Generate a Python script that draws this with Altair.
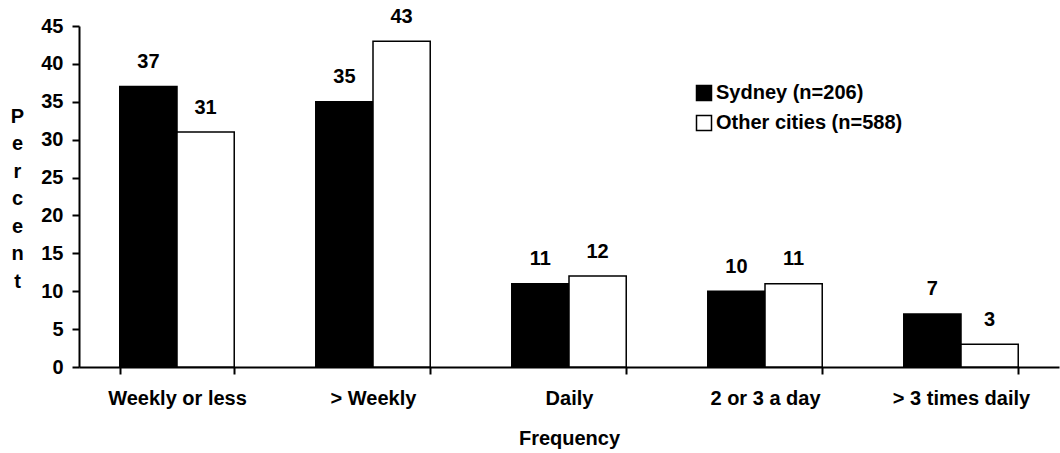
import altair as alt
import pandas as pd

categories = ["Weekly or less", "> Weekly", "Daily", "2 or 3 a day", "> 3 times daily"]
series_names = ["Sydney (n=206)", "Other cities (n=588)"]
sydney = [37, 35, 11, 10, 7]
other = [31, 43, 12, 11, 3]

rows = []
for c, s, o in zip(categories, sydney, other):
    rows.append({"category": c, "series": series_names[0], "value": s})
    rows.append({"category": c, "series": series_names[1], "value": o})
df = pd.DataFrame(rows)

FONT = "Liberation Sans"
FS = 20

x_enc = alt.X(
    "category:N",
    sort=categories,
    scale=alt.Scale(paddingInner=0.416, paddingOuter=0.208),
    axis=alt.Axis(
        title="Frequency",
        tickBand="extent",
        labelAngle=0,
        labelBaseline="alphabetic",
        labelPadding=30,
        titleY=77,
        titleBaseline="alphabetic",
    ),
)
xoff = alt.XOffset("series:N", sort=series_names, scale=alt.Scale(paddingInner=0, paddingOuter=0))
y_enc = alt.Y(
    "value:Q",
    scale=alt.Scale(domain=[0, 45], nice=False),
    axis=alt.Axis(
        values=list(range(0, 46, 5)),
        tickCount=10,
        labelOverlap=False,
        title=list("Percent"),
        titleAngle=0,
        titleAlign="center",
        titleBaseline="alphabetic",
        titleX=-62,
        titleY=96,
        titleLineHeight=27.5,
        labelPadding=9,
    ),
)

bars = alt.Chart(df).mark_bar(stroke="black", strokeWidth=1.5).encode(
    x=x_enc,
    xOffset=xoff,
    y=y_enc,
    fill=alt.Fill(
        "series:N",
        sort=series_names,
        scale=alt.Scale(domain=series_names, range=["black", "white"]),
        legend=alt.Legend(
            title=None,
            orient="none",
            legendX=615,
            legendY=57,
            symbolType="square",
            symbolSize=225,
            symbolStrokeColor="black",
            symbolStrokeWidth=1.5,
            labelFont=FONT,
            labelFontSize=FS,
            labelFontWeight="bold",
            labelColor="black",
            labelOffset=2,
            labelLimit=0,
            rowPadding=8,
            padding=0,
        ),
    ),
)

labels = alt.Chart(df).mark_text(
    dy=-18.5, baseline="alphabetic", font=FONT, fontSize=FS, fontWeight="bold", color="black"
).encode(
    x=x_enc,
    xOffset=xoff,
    y=y_enc,
    text=alt.Text("value:Q"),
)

chart = (
    alt.layer(bars, labels)
    .properties(
        width=980,
        height=341,
        background="white",
        autosize=alt.AutoSizeParams(type="none"),
        padding={"left": 79, "top": 26, "right": 1, "bottom": 86},
    )
    .configure_view(stroke=None)
    .configure_axis(
        grid=False,
        domainColor="black",
        domainWidth=2,
        tickColor="black",
        tickWidth=2,
        tickSize=7,
        labelFont=FONT,
        labelFontSize=FS,
        labelFontWeight="bold",
        labelColor="black",
        titleFont=FONT,
        titleFontSize=FS,
        titleFontWeight="bold",
        titleColor="black",
    )
)

chart.save("out.html", embed_options={"renderer": "svg", "actions": False})
